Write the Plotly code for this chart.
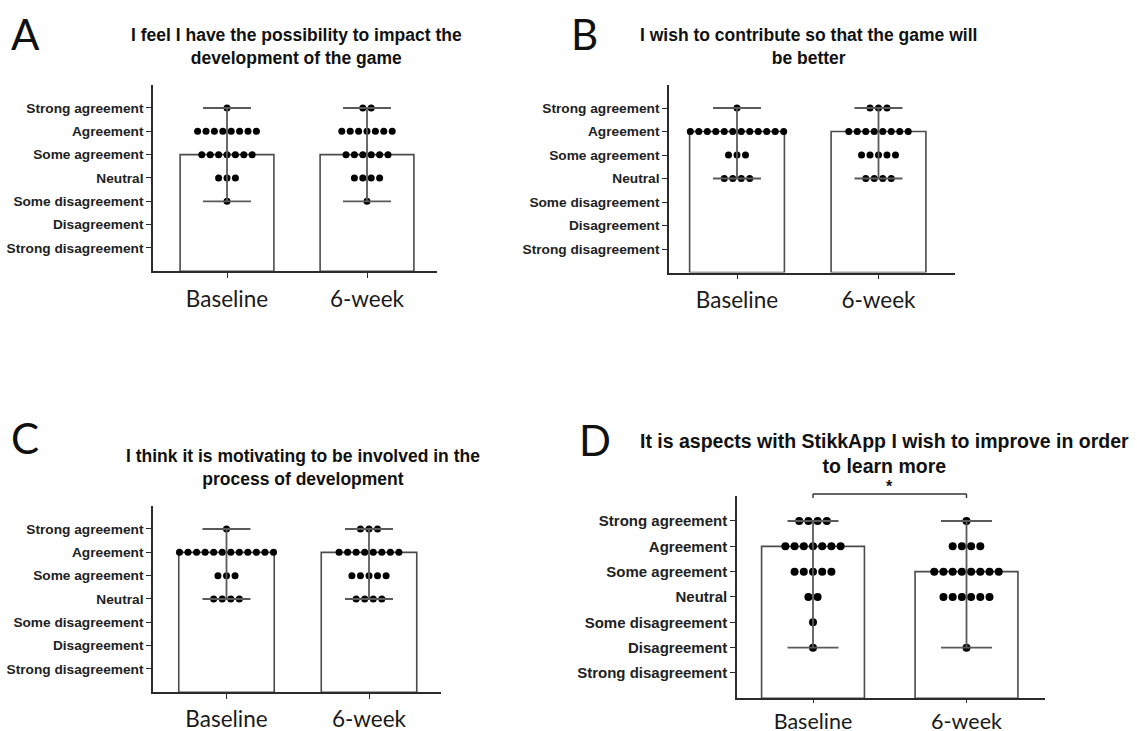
import numpy as np
import plotly.graph_objects as go

W, H = 1137, 731

levels = ["Strong disagreement", "Disagreement", "Some disagreement", "Neutral",
          "Some agreement", "Agreement", "Strong agreement"]
level_values = [1, 2, 3, 4, 5, 6, 7]
groups = ["Baseline", "6-week"]

# counts of participants per level (Strong disagreement ... Strong agreement)
a_baseline = [0, 0, 1, 3, 7, 8, 1]
a_week6 = [0, 0, 1, 4, 6, 7, 2]
b_baseline = [0, 0, 0, 4, 3, 12, 1]
b_week6 = [0, 0, 0, 4, 5, 8, 3]
c_baseline = [0, 0, 0, 4, 3, 12, 1]
c_week6 = [0, 0, 0, 4, 5, 8, 3]
d_baseline = [0, 1, 1, 2, 5, 7, 4]
d_week6 = [0, 1, 0, 6, 8, 4, 1]

titles = [
    "I feel I have the possibility to impact the<br>development of the game",
    "I wish to contribute so that the game will<br>be better",
    "I think it is motivating to be involved in the<br>process of development",
    "It is aspects with StikkApp I wish to improve in order<br>to learn more",
]
letters = ["A", "B", "C", "D"]

panels = [
    dict(data=(a_baseline, a_week6), c0=227, u=140, left=153, right=437, y7=108, y1=248,
         tfs=17.5, tx=296, ty=47, lx=25, ly=34, lfs=13.7, cap=24, ms=7, tl=5, so=2, xfs=22.5),
    dict(data=(b_baseline, b_week6), c0=737, u=141.5, left=669, right=955, y7=108, y1=249,
         tfs=17.5, tx=808, ty=47, lx=584, ly=34, lfs=13.7, cap=24, ms=7, tl=5, so=2, xfs=22.5),
    dict(data=(c_baseline, c_week6), c0=226.5, u=142.5, left=153, right=441, y7=529, y1=669,
         tfs=17.5, tx=303, ty=467, lx=25, ly=438, lfs=13.7, cap=24, ms=7, tl=5, so=1, xfs=22.5),
    dict(data=(d_baseline, d_week6), c0=813, u=153.5, left=737, right=1045, y7=521, y1=673,
         tfs=19.5, tx=884, ty=453, lx=595, ly=440, lfs=15, cap=25.5, ms=8, tl=3, so=0, xfs=21.5),
]

fig = go.Figure()
axis_color = "#2b2b2b"
line_gray = "#5a5a5a"
spacing = 0.06

for i, p in enumerate(panels):
    n = "" if i == 0 else str(i + 1)
    xa, ya = "x" + n, "y" + n
    uy = (p["y1"] - p["y7"]) / 6.0
    ypix0 = p["y1"] + uy
    ypix8 = p["y7"] - uy
    xr = [(p["left"] - p["c0"]) / p["u"], (p["right"] - p["c0"]) / p["u"]]

    meds, mins, maxs = [], [], []
    dots_x, dots_y = [], []
    for g, counts in enumerate(p["data"]):
        vals = np.repeat(level_values, counts)
        meds.append(float(np.median(vals)))
        mins.append(vals.min())
        maxs.append(vals.max())
        for lv, c in zip(level_values, counts):
            for k in range(c):
                dots_x.append(g + (k - (c - 1) / 2) * spacing)
                dots_y.append(lv)

    fig.add_trace(go.Bar(x=[0, 1], y=meds, width=0.67, marker=dict(color="white",
                         line=dict(color="#4a4a4a", width=1.6)), xaxis=xa, yaxis=ya,
                         showlegend=False, hoverinfo="skip"))
    fig.add_trace(go.Scatter(x=dots_x, y=dots_y, mode="markers", xaxis=xa, yaxis=ya,
                             marker=dict(color="black", size=p["ms"]), showlegend=False))
    fig.add_trace(go.Scatter(x=[0, 1], y=meds, mode="markers", xaxis=xa, yaxis=ya,
                             marker=dict(size=0.1, color="rgba(0,0,0,0)"), showlegend=False,
                             error_y=dict(type="data", symmetric=False,
                                          array=[mx - md for mx, md in zip(maxs, meds)],
                                          arrayminus=[md - mn for md, mn in zip(meds, mins)],
                                          color=line_gray, thickness=1.8, width=p["cap"])))

    fig.layout["xaxis" + n] = dict(
        domain=[p["left"] / W, p["right"] / W], range=xr, anchor=ya, automargin=False,
        tickvals=[0, 1], ticktext=groups, showline=True, linecolor=axis_color, linewidth=1.6,
        ticks="outside", ticklen=p["tl"], tickcolor=axis_color, tickwidth=1.4, showgrid=False,
        zeroline=False, tickfont=dict(family="Lato", size=p["xfs"], color="#1a1a1a"),
        ticklabelstandoff=p["so"], fixedrange=True)
    fig.layout["yaxis" + n] = dict(
        domain=[1 - ypix0 / H, 1 - ypix8 / H], range=[0, 8], anchor=xa, automargin=False,
        tickvals=level_values, ticktext=levels, showline=True, linecolor=axis_color,
        linewidth=1.6, ticks="outside", ticklen=5, tickcolor=axis_color, tickwidth=1.4,
        showgrid=False, zeroline=False,
        tickfont=dict(family="Liberation Sans", size=p["lfs"], color="#222222", weight="bold"),
        fixedrange=True)

    fig.add_annotation(text=titles[i], x=p["tx"] / W, y=1 - p["ty"] / H, xref="paper",
                       yref="paper", xanchor="center", yanchor="middle", showarrow=False,
                       font=dict(family="Liberation Sans", size=p["tfs"], color="#111111",
                                 weight="bold"))
    fig.add_annotation(text=letters[i], x=p["lx"] / W, y=1 - p["ly"] / H, xref="paper",
                       yref="paper", xanchor="center", yanchor="middle", showarrow=False,
                       font=dict(family="Lato", size=42, color="#111111"))

by = 1 - 494 / H
byt = 1 - 498 / H
fig.add_shape(type="line", xref="x4", yref="paper", x0=0, x1=1, y0=by, y1=by,
              line=dict(color="#333333", width=1.4))
fig.add_shape(type="line", xref="x4", yref="paper", x0=0, x1=0, y0=by, y1=byt,
              line=dict(color="#333333", width=1.4))
fig.add_shape(type="line", xref="x4", yref="paper", x0=1, x1=1, y0=by, y1=byt,
              line=dict(color="#333333", width=1.4))
fig.add_annotation(text="*", x=0.5, xref="x4", y=1 - 486 / H, yref="paper",
                   showarrow=False, font=dict(family="Liberation Sans", size=16, color="#111111",
                                              weight="bold"))

fig.update_layout(width=W, height=H, margin=dict(l=0, r=0, t=0, b=0, autoexpand=False),
                  paper_bgcolor="white", plot_bgcolor="white", barmode="overlay",
                  showlegend=False)

js = """
var s = document.createElement('style');
s.innerHTML = 'html,body{margin:0;padding:0;overflow:hidden;}';
document.head.appendChild(s);
"""
fig.write_html("out.html", config={"displayModeBar": False}, post_script=js)
